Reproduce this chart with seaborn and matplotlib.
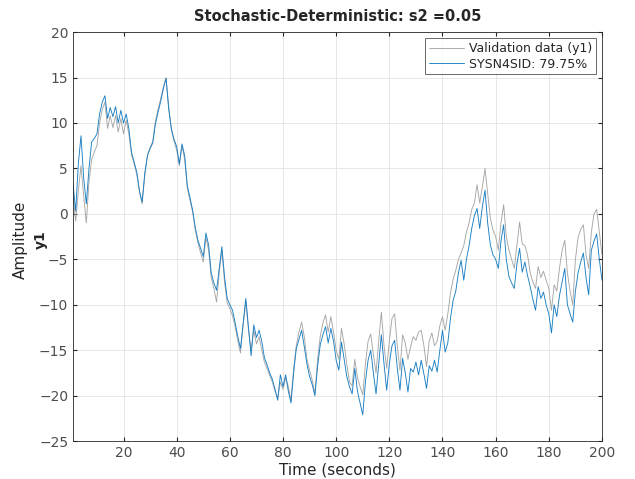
import matplotlib
matplotlib.use('Agg')
import matplotlib.pyplot as plt
import seaborn as sns
import numpy as np
import pandas as pd

# Время (секунды)
time_s = np.arange(1, 201)

# Данные проверки (y1) — серые
validation_y1 = [
    2.2, -0.8, 2.5, 5.3, 2.0, -1.0, 3.5, 6.0, 6.8, 7.5,
    10.0, 11.5, 12.3, 9.4, 10.8, 9.5, 10.8, 9.0, 10.5, 8.8,
    10.3, 8.8, 6.5, 5.5, 4.3, 2.5, 1.1, 4.2, 6.5, 7.3,
    8.0, 10.2, 11.5, 12.7, 14.0, 15.0, 11.8, 9.2, 8.0, 7.0,
    5.3, 7.5, 6.0, 2.8, 1.5, 0.2, -1.8, -3.2, -4.3, -5.3,
    -2.6, -4.0, -7.0, -8.2, -9.7, -6.5, -4.0, -7.5, -9.8, -10.4,
    -11.2, -12.4, -14.0, -15.3, -12.3, -9.6, -12.8, -15.0, -12.8, -14.3,
    -13.5, -15.0, -16.3, -17.0, -17.8, -18.5, -19.5, -20.3, -18.5, -19.3,
    -18.0, -19.0, -20.5, -17.0, -14.5, -13.0, -11.9, -13.5, -16.0, -17.2,
    -18.3, -19.8, -16.0, -13.5, -12.0, -11.1, -13.0, -11.3, -13.0, -15.0,
    -16.0, -12.6, -14.3, -16.5, -18.5, -18.9, -16.0, -18.0, -19.0, -19.9,
    -16.5, -14.0, -13.2, -15.5, -17.5, -14.0, -10.8, -14.5, -17.0, -14.0,
    -11.5, -11.0, -14.5, -17.2, -13.3, -14.2, -16.0, -14.6, -13.5, -13.9,
    -13.0, -12.8, -14.5, -16.8, -14.0, -13.1, -14.5, -14.0, -12.3, -11.3,
    -12.8, -11.0, -8.7, -7.2, -6.2, -5.0, -4.3, -3.5, -2.0, -1.0,
    0.5, 1.2, 3.2, 1.2, 3.0, 5.0, 2.3, -0.5, -1.8, -2.5,
    -4.0, -1.0, 1.0, -2.5, -4.0, -5.0, -6.0, -3.5, -0.9, -3.3,
    -3.5, -4.5, -6.5, -7.5, -8.2, -5.8, -7.0, -6.3, -7.3, -8.2,
    -10.6, -7.8, -8.5, -6.0, -4.0, -2.9, -6.5, -8.5, -10.0, -5.0,
    -2.6, -1.7, -1.2, -4.5, -6.0, -2.0, 0.0, 0.5, -2.0, -4.5,
]

# Модель SYSN4SID — синяя
sysn4sid_y1 = [
    3.3, 0.3, 5.5, 8.6, 4.0, 1.1, 5.0, 7.9, 8.3, 8.8,
    11.0, 12.3, 13.0, 10.5, 11.7, 10.7, 11.8, 10.0, 11.4, 10.0,
    11.0, 9.4, 6.8, 5.7, 4.6, 2.5, 1.3, 4.5, 6.4, 7.2,
    7.8, 9.9, 11.2, 12.4, 13.8, 14.9, 11.5, 9.4, 8.2, 7.4,
    5.5, 7.7, 6.4, 3.1, 1.8, 0.4, -1.5, -2.9, -3.8, -4.7,
    -2.1, -3.4, -6.5, -7.6, -8.4, -6.0, -3.6, -6.9, -9.3, -10.0,
    -10.6, -12.0, -13.5, -14.8, -12.0, -9.3, -12.5, -15.6, -12.2, -13.6,
    -12.8, -14.0, -15.8, -16.6, -17.5, -18.2, -19.3, -20.5, -17.7, -19.0,
    -17.7, -19.5, -20.8, -17.5, -14.8, -13.8, -12.8, -14.6, -16.5, -17.9,
    -18.8, -20.0, -16.8, -14.4, -13.3, -12.4, -14.2, -12.6, -14.0, -16.1,
    -17.2, -14.1, -16.0, -17.9, -19.0, -19.8, -17.0, -19.5, -20.8, -22.1,
    -18.5, -16.1, -15.0, -17.5, -19.8, -16.5, -13.3, -16.5, -19.4, -16.5,
    -14.5, -13.9, -17.0, -19.4, -15.9, -17.5, -19.6, -17.0, -17.4, -16.3,
    -17.7, -16.1, -17.6, -19.2, -16.7, -17.3, -16.1, -17.4, -15.0, -12.8,
    -15.2, -14.2, -11.5, -9.5, -8.5, -6.5, -5.1, -7.3, -5.0, -3.5,
    -1.6, -0.2, 0.6, -1.6, 0.8, 2.6, -1.0, -3.4, -4.5, -5.0,
    -6.0, -3.0, -1.2, -5.0, -6.9, -7.6, -8.2, -5.5, -3.8, -6.4,
    -5.3, -6.8, -8.0, -9.4, -10.6, -8.0, -9.3, -8.6, -10.0, -11.0,
    -13.1, -10.0, -11.3, -9.0, -7.5, -6.0, -10.0, -11.0, -11.9, -8.5,
    -6.5, -5.3, -4.3, -7.0, -8.9, -4.0, -3.0, -2.2, -5.0, -7.3,
]

series_names = ['Validation data (y1)', 'SYSN4SID: 79.75%']
series_colors = ['#a6a6a6', '#1a7fc4']
x_ticks = [20, 40, 60, 80, 100, 120, 140, 160, 180, 200]
y_ticks = list(range(-25, 21, 5))

df = pd.DataFrame({
    'time': np.concatenate([time_s, time_s]),
    'value': validation_y1 + sysn4sid_y1,
    'series': [series_names[0]] * len(time_s) + [series_names[1]] * len(time_s),
})

sns.set_style('whitegrid')
plt.rcParams['font.family'] = ['DejaVu Sans']

fig = plt.figure(figsize=(6.35, 4.79), dpi=100)
ax = fig.add_axes([0.115, 0.079, 0.833, 0.854])

sns.lineplot(data=df, x='time', y='value', hue='series', hue_order=series_names,
             palette=series_colors, linewidth=0.65, ax=ax)

ax.set_xlim(1, 200)
ax.set_ylim(-25, 20)
ax.set_xticks(x_ticks)
ax.set_yticks(y_ticks)
ax.grid(True, color='#e3e3e3', linewidth=0.6)
for side in ['left', 'right', 'top', 'bottom']:
    ax.spines[side].set_visible(True)
    ax.spines[side].set_color('#262626')
    ax.spines[side].set_linewidth(0.6)
ax.tick_params(axis='both', labelsize=10, labelcolor='#4d4d4d', direction='in',
               length=3, color='#262626', left=True, bottom=True, top=True, right=True)

ax.set_title('Stochastic-Deterministic: s2 =0.05', fontsize=10.5, fontweight='bold', pad=8)
ax.set_xlabel('Time (seconds)', fontsize=11, color='#262626', labelpad=2)
ax.set_ylabel('')
fig.text(0.032, 0.5, 'Amplitude', rotation=90, fontsize=11, color='#262626',
         ha='center', va='center')
fig.text(0.064, 0.5, 'y1', rotation=90, fontsize=10, fontweight='bold', color='#262626',
         ha='center', va='center')

leg = ax.legend(loc='upper right', fontsize=9, frameon=True, fancybox=False,
                borderaxespad=0.5, handlelength=2.8, borderpad=0.3, labelspacing=0.2,
                handletextpad=0.4)
leg.get_frame().set_edgecolor('#262626')
leg.get_frame().set_linewidth(0.6)

fig.savefig('out.png', dpi=100)
